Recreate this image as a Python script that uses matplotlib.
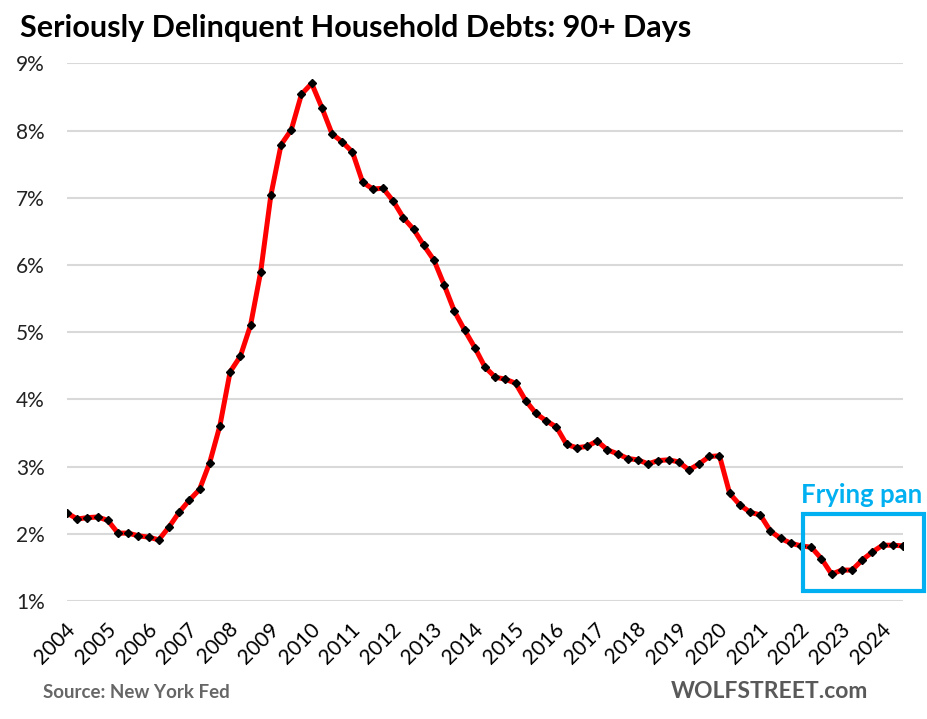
import matplotlib
matplotlib.use("Agg")
import matplotlib.pyplot as plt
from matplotlib.patches import Rectangle
from matplotlib.transforms import ScaledTranslation

plt.rcParams['font.family'] = ['Lato', 'DejaVu Sans']

# Quarterly values, 2004 Q1 .. 2024 Q3 (% of balance 90+ days delinquent)
values = [
    2.31, 2.22, 2.24, 2.25, 2.20, 2.01, 2.01, 1.97, 1.95, 1.91,
    2.10, 2.32, 2.50, 2.66, 3.06, 3.61, 4.41, 4.64, 5.10, 5.90,
    7.04, 7.79, 8.01, 8.54, 8.70, 8.34, 7.95, 7.83, 7.68, 7.23,
    7.13, 7.14, 6.95, 6.70, 6.53, 6.29, 6.07, 5.70, 5.31, 5.03,
    4.77, 4.48, 4.33, 4.30, 4.24, 3.98, 3.79, 3.68, 3.59, 3.33,
    3.28, 3.30, 3.38, 3.25, 3.19, 3.12, 3.10, 3.04, 3.09, 3.10,
    3.07, 2.95, 3.04, 3.15, 3.16, 2.60, 2.43, 2.32, 2.28, 2.04,
    1.93, 1.86, 1.82, 1.80, 1.63, 1.40, 1.46, 1.46, 1.61, 1.73,
    1.83, 1.83, 1.82,
]
year_labels = [str(y) for y in range(2004, 2025)]
y_ticks = [1, 2, 3, 4, 5, 6, 7, 8, 9]
title = "Seriously Delinquent Household Debts: 90+ Days"
annotation = "Frying pan"

fig = plt.figure(figsize=(9.28, 7.19), dpi=100)
ax = fig.add_axes([67/928, 1-601/719, (903-67)/928, (601-63.3)/719])

x = list(range(len(values)))
ax.plot(x, values, color='#ff0000', lw=3.6, zorder=3, solid_joinstyle='round')
ax.plot(x, values, ls='none', marker='D', ms=4.4, color='black', zorder=4)

ax.set_xlim(0, len(values) - 1)
ax.set_ylim(1, 9)
ax.set_yticks(y_ticks)
ax.set_yticklabels([f"{v}%" for v in y_ticks])
ax.set_xticks(list(range(0, len(values), 4)))
ax.set_xticklabels(year_labels, rotation=45, ha='right', va='center',
                   rotation_mode='anchor')
ax.tick_params(axis='x', length=0, pad=18, labelsize=15, colors='black')
ax.tick_params(axis='y', length=0, pad=16, labelsize=15, colors='#222222')
shift = ScaledTranslation(5/100, 0, fig.dpi_scale_trans)
for lab in ax.get_xticklabels():
    lab.set_transform(lab.get_transform() + shift)
ax.grid(axis='y', color='#d9d9d9', lw=1.5)
ax.set_axisbelow(True)
for s in ax.spines.values():
    s.set_visible(False)

# Frying pan box
rx0 = 72.2
rx1 = 84.1
ax.add_patch(Rectangle((rx0, 1.145), rx1 - rx0, 2.295 - 1.145, fill=False,
                       ec='#00b0f0', lw=3, clip_on=False, zorder=5))
fig.text(801/928, 1-495/719, annotation, color='#00b0f0', fontsize=18.5,
         fontweight='bold', ha='left', va='center')

fig.text(20/928, 1-28/719, title, fontsize=22, fontweight='bold',
         ha='left', va='center', color='black')
fig.text(43/928, 1-693/719, "Source: New York Fed", fontsize=13.5,
         fontweight='bold', color='#666666', ha='left', va='center')
fig.text(868/928, 1-692/719, "WOLFSTREET.com", fontsize=16.5,
         fontweight='bold', color='#595959', ha='right', va='center')

fig.savefig("out.png", dpi=100)
